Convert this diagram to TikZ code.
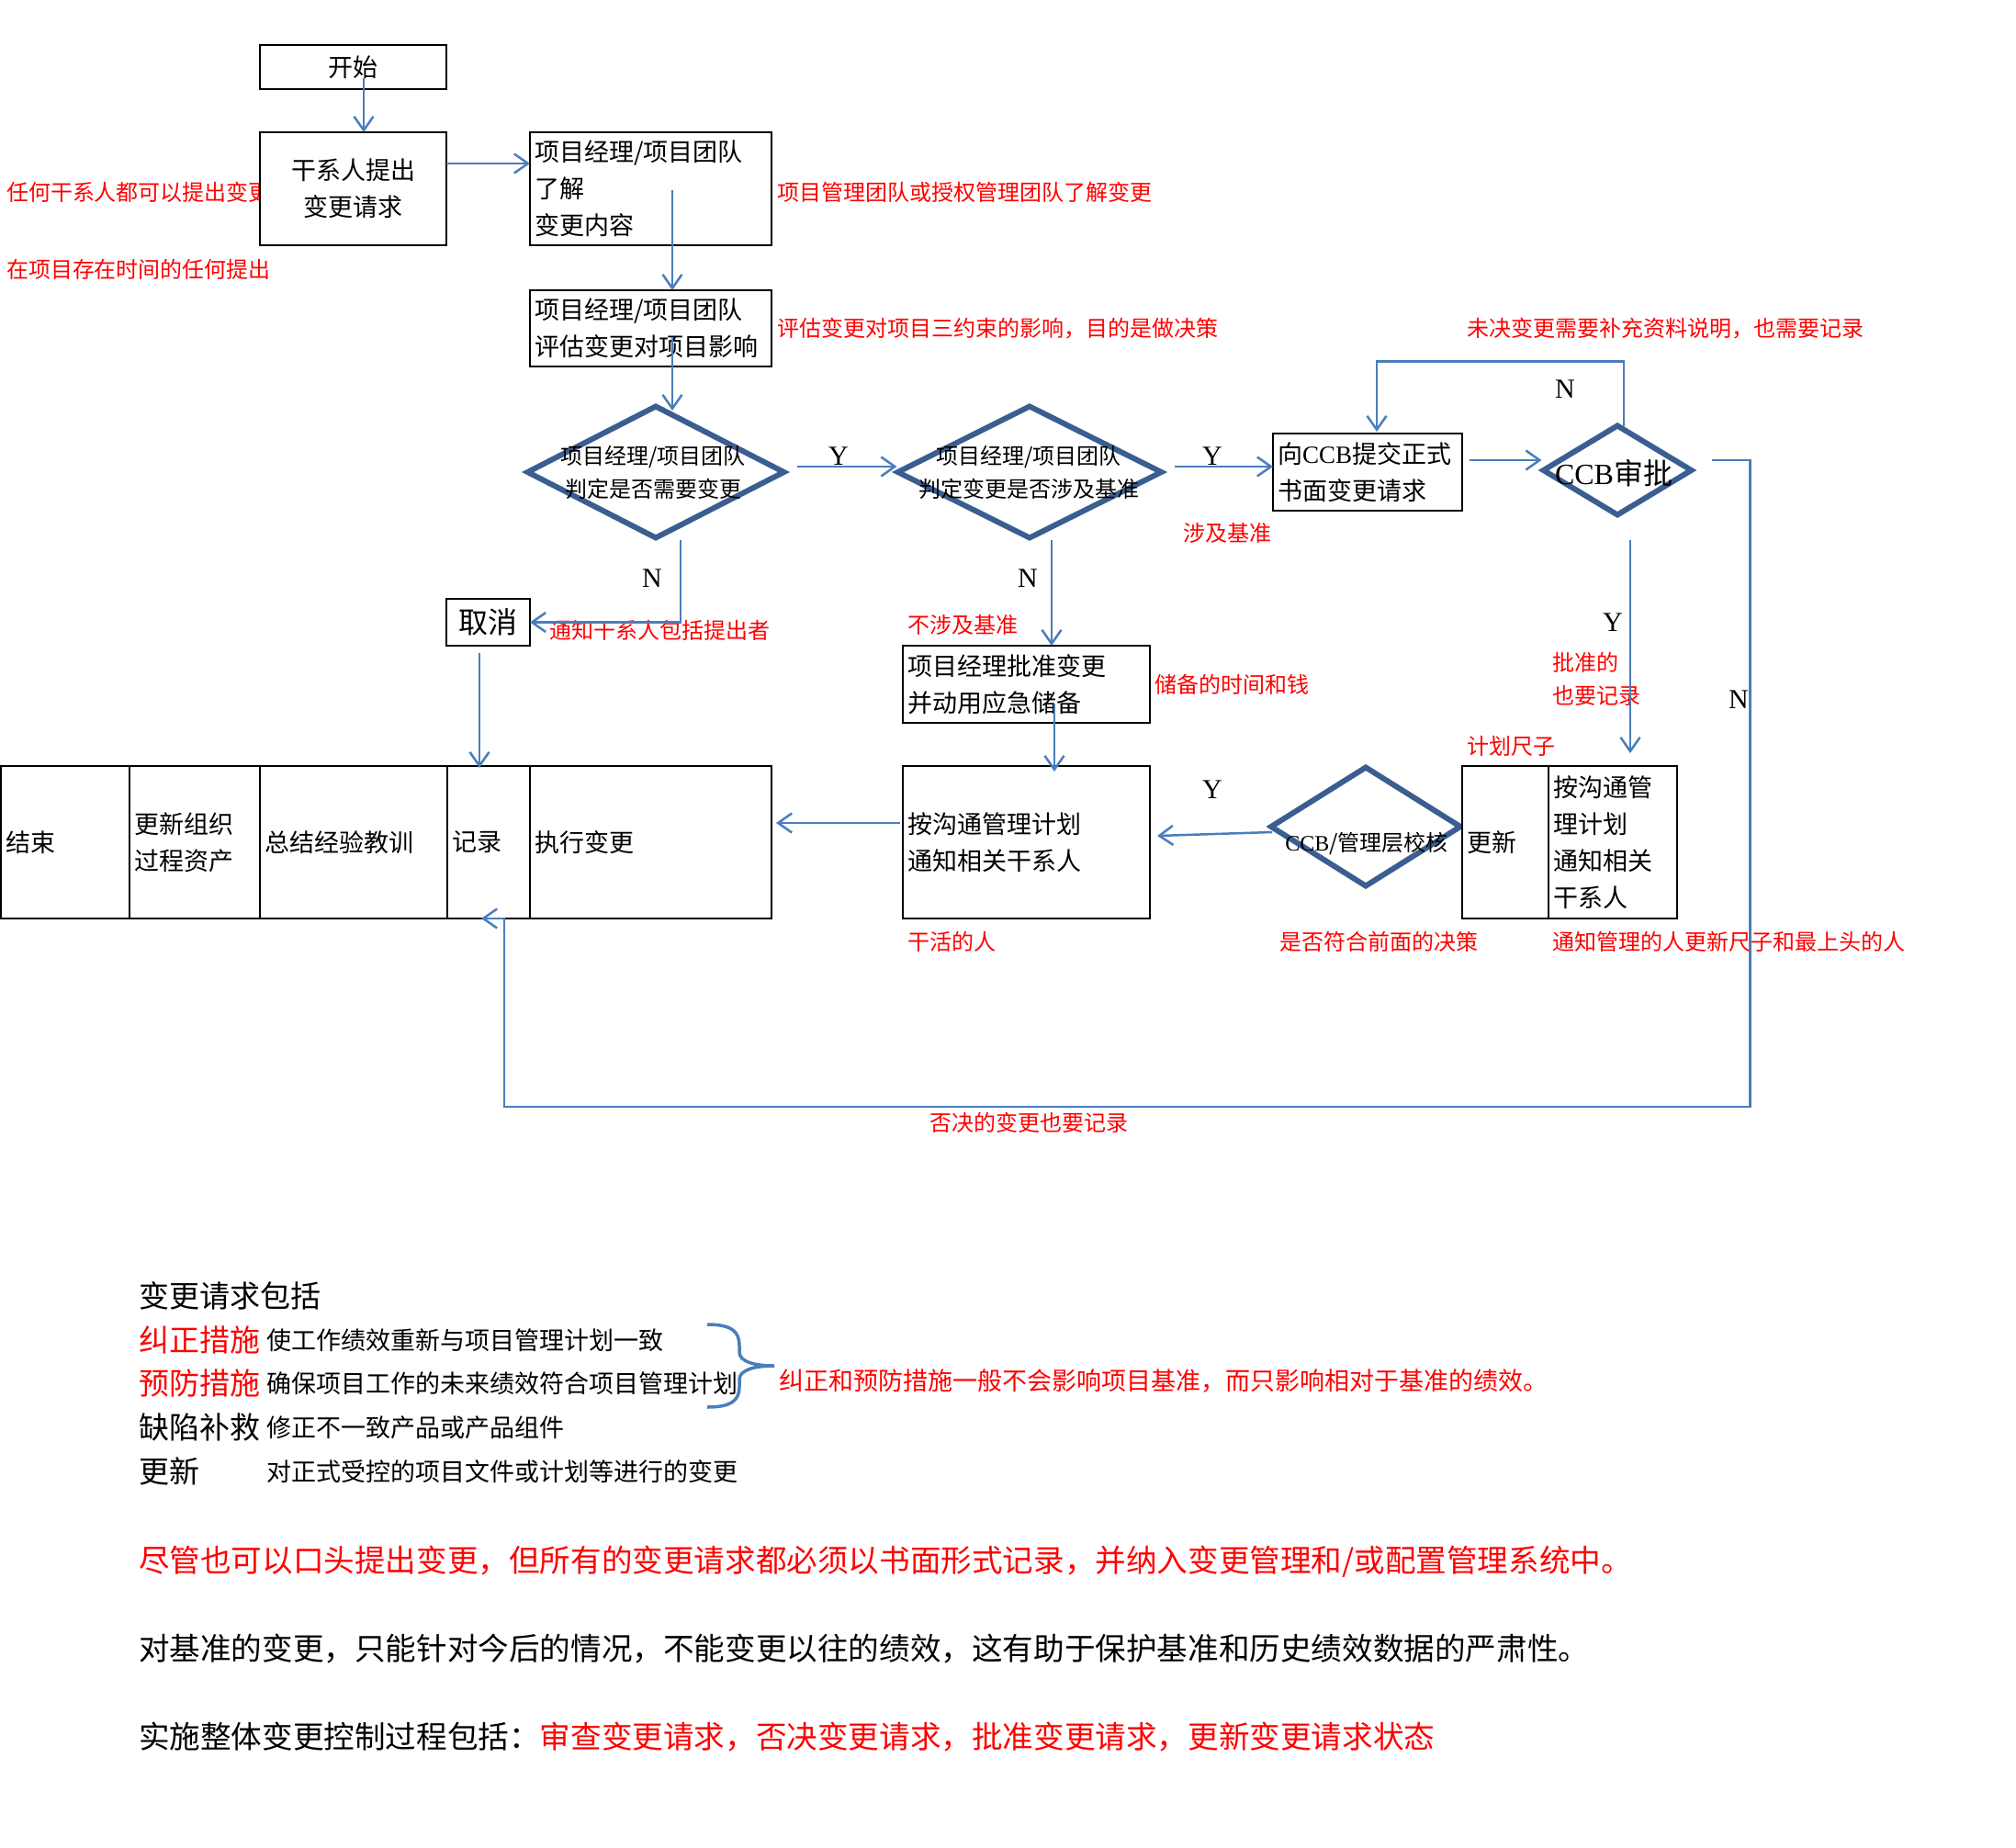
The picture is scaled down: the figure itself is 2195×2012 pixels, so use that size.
\documentclass[tikz,border=0pt]{standalone}
\usepackage{fontspec}
\setmainfont{Noto Sans CJK SC}
\newfontfamily\latin{Liberation Serif}
\usetikzlibrary{arrows.meta,shapes.geometric,calc}

\definecolor{diaBlue}{RGB}{59,94,145}
\definecolor{lineBlue}{RGB}{74,126,187}
\newcommand{\fsBox}{\fontsize{27}{40}\selectfont}
\newcommand{\fsDia}{\fontsize{24}{36}\selectfont}
\newcommand{\fsNote}{\fontsize{24}{36}\selectfont}
\newcommand{\fsLarge}{\fontsize{32}{36}\selectfont}
\newcommand{\fsHead}{\fontsize{33}{40}\selectfont}
\newcommand{\fsBig}{\fontsize{33.6}{40}\selectfont}

\begin{document}
\begin{tikzpicture}[
        x=1pt, y=-1pt,
        every node/.style={inner sep=0pt, outer sep=0pt},
        box/.style={draw, line width=2.5pt, fill=white, inner sep=5pt, font=\fsBox},
        dia/.style={diamond, draw=diaBlue, line width=6pt, fill=white, inner sep=0pt},
        flow/.style={draw=lineBlue, line width=2.5pt, -{Straight Barb[length=15pt,width=21pt]}},
        note/.style={text=red, font=\fsNote, anchor=west},
        yn/.style={font=\latin\fontsize{30}{30}\selectfont},
    ]

    \useasboundingbox[fill=white] (0,0) rectangle (2195,2012);

    % === TOP: request and analysis ===
    \node[note] (nAny) at (7,209) {任何干系人都可以提出变更};
    \node[note] (nTime) at (7,293) {在项目存在时间的任何提出};

    \node[box, minimum width=203, minimum height=48] (start) at (384.5,73) {开始};
    \node[box, minimum width=203, minimum height=123, align=center] (raise) at (384.5,205.5) {干系人提出\\变更请求};

    \node[box, minimum width=263, minimum height=123, text width=253, align=left] (know) at (708.5,205.5) {项目经理/项目团队\\了解\\变更内容};
    \node[note] (nKnow) at (846,209) {项目管理团队或授权管理团队了解变更};

    \node[box, minimum width=263, minimum height=83, text width=253, align=left] (assess) at (708.5,357.5) {项目经理/项目团队\\评估变更对项目影响};
    \node[note] (nAssess) at (846,358) {评估变更对项目三约束的影响，目的是做决策};

    % === DECISIONS ===
    \node[dia, minimum width=279, minimum height=143] (d1) at (714,514) {};
    \node[font=\fsDia, align=center] (d1t) at (711,514) {项目经理/项目团队\\判定是否需要变更};

    \node[dia, minimum width=287, minimum height=143] (d2) at (1121,514) {};
    \node[font=\fsDia, align=center] (d2t) at (1120,514) {项目经理/项目团队\\判定变更是否涉及基准};

    \node[box, minimum width=206, minimum height=84, text width=196, align=left] (submit) at (1489,514) {向{\latin CCB}提交正式\\书面变更请求};
    \node[note] (nBase) at (1288,580) {涉及基准};

    \node[dia, minimum width=161, minimum height=97] (ccb) at (1761,512) {};
    \node[font=\fsLarge] (ccbt) at (1757,515) {{\latin CCB}审批};
    \node[note] (nPend) at (1597,358) {未决变更需要补充资料说明，也需要记录};

    \node[box, minimum width=91, minimum height=51, font=\fsLarge] (cancel) at (531.5,677.5) {取消};

    \node[box, minimum width=269, minimum height=84, text width=259, align=left] (approve) at (1117.5,745) {项目经理批准变更\\并动用应急储备};
    \node[note] (nNoBase) at (988,680) {不涉及基准};
    \node[note] (nRes) at (1257,745) {储备的时间和钱};

    % === BOTTOM ROW ===
    \node[box, anchor=north west, minimum width=140, minimum height=166, text width=130, align=left] (fin) at (1,834) {结束};
    \node[box, anchor=north west, minimum width=142, minimum height=166, text width=132, align=left] (opa) at (141,834) {更新组织\\过程资产};
    \node[box, anchor=north west, minimum width=204, minimum height=166, text width=194, align=left] (lesson) at (283,834) {总结经验教训};
    \node[box, anchor=north west, minimum width=90, minimum height=166, text width=80, align=left] (record) at (487,834) {记录};
    \node[box, anchor=north west, minimum width=263, minimum height=166, text width=253, align=left] (exec) at (577,834) {执行变更};

    \node[box, anchor=north west, minimum width=269, minimum height=166, text width=259, align=left] (notify) at (983,834) {按沟通管理计划\\通知相关干系人};

    \node[dia, minimum width=206, minimum height=129] (check) at (1487,900) {};
    \node[font=\fsDia] (checkt) at (1488,918) {{\latin CCB}/管理层校核};

    \node[box, anchor=north west, minimum width=94, minimum height=166, text width=84, align=left] (upd) at (1592,834) {更新};
    \node[box, anchor=north west, minimum width=140, minimum height=166, text width=130, align=left] (updN) at (1686,834) {按沟通管\\理计划\\通知相关\\干系人};

    \node[note, align=left] (nApp) at (1690,739) {批准的\\也要记录};
    \node[note] (nRuler) at (1597,812) {计划尺子};
    \node[note] (nWork) at (988,1025) {干活的人};
    \node[note] (nFit) at (1393,1025) {是否符合前面的决策};
    \node[note] (nTell) at (1690,1025) {通知管理的人更新尺子和最上头的人};
    \node[note] (nCancel) at (598,686) {通知干系人包括提出者};
    \node[note, anchor=center] (nReject) at (1120,1222) {否决的变更也要记录};

    % === CONNECTORS ===
    \draw[flow] ($(start.center)+(11.5,12)$) -- ($(raise.north)+(11.5,0)$);
    \draw[flow] ($(raise.east)+(0,-27.5)$) -- ($(know.west)+(0,-27.5)$);
    \draw[flow] ($(know.center)+(23.5,1.5)$) -- ($(assess.north)+(23.5,0)$);
    \draw[flow] ($(assess.center)+(23.5,9.5)$) -- ($(d1.north)+(18,4.5)$);
    \draw[flow] ($(d1.east)+(14,-6)$) -- ($(d2.west)+(-1,-6)$);
    \draw[flow] ($(d2.east)+(14,-6)$) -- ($(submit.west)+(0,-6)$);
    \draw[flow] ($(submit.east)+(8,-13)$) -- ($(ccb.west)+(-2,-11)$);
    % not decided: back to submit
    \draw[flow] ($(ccb.north)+(7,0)$) -- ++(0,-70) -| ($(submit.north)+(10,-2)$);
    % rejected: back to record
    \draw[flow] ($(ccb.east)+(22,-11)$) -- ++(42,0) |- ($(record.south)+(17,205)$) -- ($(record.south)+(17,0)$) -- ($(record.south)+(-8,0)$);
    \draw[flow] ($(d1.south)+(27,2)$) |- (cancel.east);
    \draw[flow] ($(cancel.south)+(-9.5,8)$) -- ($(record.north)+(-10,2)$);
    \draw[flow] ($(d2.south)+(24,2)$) -- ($(approve.north)+(27.5,0)$);
    \draw[flow] ($(approve.south)+(30.5,-21)$) -- ($(notify.north)+(30.5,6)$);
    \draw[flow] ($(notify.west)+(-3,-21)$) -- ($(exec.east)+(5,-21)$);
    \draw[flow] ($(check.west)+(1,6)$) -- ($(notify.east)+(8,-7)$);
    \draw[flow] ($(ccb.south)+(14,27)$) -- ($(updN.north)+(19,-14)$);

    % Y / N labels
    \node[yn] (y1) at (913,497) {Y};
    \node[yn] (y2) at (1320,497) {Y};
    \node[yn] (nLoop) at (1704,424) {N};
    \node[yn] (n1) at (710,630) {N};
    \node[yn] (n2) at (1119,630) {N};
    \node[yn] (y3) at (1756,678) {Y};
    \node[yn] (nRej) at (1893,762) {N};
    \node[yn] (y4) at (1320,860) {Y};

    % === NOTES BELOW ===
    \node[anchor=west, font=\fsHead] (incl) at (151,1411) {变更请求包括};
    \node[anchor=west, font=\fsHead, text=red] (k1) at (151,1459) {纠正措施};
    \node[anchor=west, font=\fsBox] (k1d) at (290,1459) {使工作绩效重新与项目管理计划一致};
    \node[anchor=west, font=\fsHead, text=red] (k2) at (151,1506) {预防措施};
    \node[anchor=west, font=\fsBox] (k2d) at (290,1506) {确保项目工作的未来绩效符合项目管理计划};
    \node[anchor=west, font=\fsHead] (k3) at (151,1554) {缺陷补救};
    \node[anchor=west, font=\fsBox] (k3d) at (290,1554) {修正不一致产品或产品组件};
    \node[anchor=west, font=\fsHead] (k4) at (151,1602) {更新};
    \node[anchor=west, font=\fsBox] (k4d) at (290,1602) {对正式受控的项目文件或计划等进行的变更};

    % brace
    \draw[lineBlue, line width=3.5pt] (770,1442) .. controls (797,1442) and (805,1450) .. (805,1465) -- (805,1472) .. controls (805,1482) and (820,1487) .. (843,1487) .. controls (820,1487) and (805,1492) .. (805,1502) -- (805,1510) .. controls (805,1524) and (797,1532) .. (770,1532);
    \node[anchor=west, font=\fsBox, text=red] (kNote) at (848,1504) {纠正和预防措施一般不会影响项目基准，而只影响相对于基准的绩效。};

    \node[anchor=west, font=\fsBig, text=red] (line1) at (151,1700) {尽管也可以口头提出变更，但所有的变更请求都必须以书面形式记录，并纳入变更管理和/或配置管理系统中。};
    \node[anchor=west, font=\fsBig] (line2) at (151,1795) {对基准的变更，只能针对今后的情况，不能变更以往的绩效，这有助于保护基准和历史绩效数据的严肃性。};
    \node[anchor=west, font=\fsBig] (line3) at (151,1891) {实施整体变更控制过程包括：\textcolor{red}{审查变更请求，否决变更请求，批准变更请求，更新变更请求状态}};

\end{tikzpicture}
\end{document}
